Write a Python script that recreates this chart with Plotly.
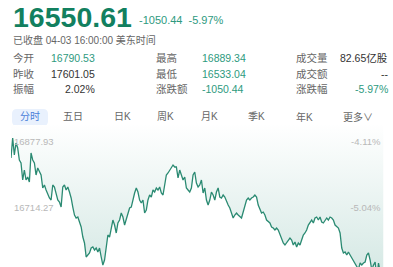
import plotly.graph_objects as go

# ---------------- data ----------------
prev_close = 17601.05
last_price = 16550.61
change = -1050.44
change_pct = -5.97

stats_left = [("今开", "16790.53"), ("昨收", "17601.05"), ("振幅", "2.02%")]
stats_mid = [("最高", "16889.34"), ("最低", "16533.04"), ("涨跌额", "-1050.44")]
stats_right = [("成交量", "82.65亿股"), ("成交额", "--"), ("涨跌幅", "-5.97%")]
tabs = ["分时", "五日", "日K", "周K", "月K", "季K", "年K", "更多∨"]

axis_ticks = [16877.93, 16714.27]

prices = [
    16838.3, 16887.9, 16845.7, 16875.5, 16863.1, 16833.3, 16825.9, 16783.7, 16808.5, 16783.7,
    16791.1, 16778.7, 16850.7, 16833.3, 16825.9, 16796.1, 16813.5, 16803.5, 16796.1, 16763.9,
    16771.3, 16758.9, 16746.5, 16739.1, 16734.1, 16771.3, 16766.3, 16746.5, 16734.1, 16729.1,
    16716.7, 16766.3, 16771.3, 16758.9, 16766.3, 16753.9, 16739.1, 16716.7, 16696.9, 16689.5,
    16691.9, 16679.5, 16667.2, 16642.3, 16627.5, 16592.8, 16597.7, 16602.7, 16615.1, 16617.6,
    16610.1, 16615.1, 16605.2,
    16615.1, 16592.8, 16572.9, 16585.3, 16617.6, 16647.3, 16642.3, 16659.7, 16684.5, 16672.1,
    16652.3, 16677.1, 16684.5, 16701.9, 16691.9, 16672.1, 16684.5, 16696.9, 16714.3, 16716.7,
    16739.1, 16751.5, 16763.9, 16753.9, 16734.1, 16726.6, 16734.1, 16701.9, 16709.3, 16734.1,
    16746.5, 16741.5, 16758.9, 16753.9, 16763.9, 16758.9, 16766.3, 16751.5, 16746.5, 16771.3,
    16796.1, 16801.1, 16808.5, 16813.5, 16820.9, 16816.0, 16816.0, 16788.7, 16808.5, 16796.1,
    16783.7, 16791.1, 16763.9, 16758.9, 16753.9, 16763.9, 16796.1,
    16803.5, 16776.3, 16766.3, 16771.3, 16783.7, 16751.5, 16763.9, 16734.1, 16721.7, 16734.1,
    16753.9, 16746.5, 16734.1, 16753.9, 16763.9, 16741.5, 16739.1, 16746.5, 16741.5, 16729.1,
    16721.7, 16714.3, 16701.9, 16689.5, 16696.9, 16701.9, 16696.9, 16691.9, 16689.5, 16704.3,
    16721.7, 16734.1, 16739.1, 16734.1, 16739.1, 16741.5, 16746.5, 16741.5, 16721.7, 16709.3,
    16701.9, 16704.3, 16696.9, 16684.5, 16679.5, 16677.1, 16667.2, 16664.7, 16659.7, 16664.7,
    16659.7, 16647.3, 16639.9, 16627.5,
    16622.5, 16627.5, 16634.9, 16639.9, 16634.9, 16622.5, 16629.9, 16617.6, 16627.5, 16622.5,
    16634.9, 16647.3, 16652.3, 16659.7, 16672.1, 16677.1, 16684.5, 16677.1, 16689.5, 16691.9,
    16684.5, 16691.9, 16679.5, 16677.1, 16684.5, 16689.5, 16684.5, 16691.9, 16689.5, 16684.5,
    16672.1, 16667.2, 16664.7, 16652.3, 16615.1, 16602.7, 16605.2, 16597.7, 16605.2, 16597.7,
    16590.3, 16580.4, 16572.9, 16568.0, 16562.0, 16577.9, 16572.9, 16577.9, 16580.4, 16597.7,
    16602.7, 16585.3, 16560.0, 16572.9, 16580.4, 16533.04, 16577.9, 16556.0, 16555.6, 16550.61,
]
idx = list(range(len(prices)))

# ---------------- styling ----------------
W, H = 393, 267
FONT = "Liberation Sans, Noto Sans CJK SC, sans-serif"
GREEN = "#12805f"
TEAL = "#2e9a80"
LINE = "#2a8a72"
LABEL = "#666666"
VALUE = "#333333"


def px(x):
    return x / W


def py(y):
    return 1 - y / H


fig = go.Figure()

# baseline (previous close) – fill reaches up to it
fig.add_trace(go.Scatter(x=idx, y=[prev_close] * len(idx), mode="lines",
                         line=dict(width=0), hoverinfo="skip", showlegend=False))
fig.add_trace(go.Scatter(
    x=idx, y=prices, mode="lines", fill="tonexty",
    fillgradient=dict(type="vertical",
                      colorscale=[[0, "#d6e9e5"], [1, "#ffffff"]],
                      start=16560, stop=16925),
    line=dict(color=LINE, width=1.3), showlegend=False, hoverinfo="skip"))

# y range mapped so that pixel 125 -> top, pixel 267 -> bottom
y_top = 16920.1
y_bot = 16568.0

pct_text = ["%.2f%%" % ((v / prev_close - 1) * 100) for v in axis_ticks]
num_text = ["%.2f" % v for v in axis_ticks]

fig.add_trace(go.Scatter(x=[idx[0]], y=[axis_ticks[0]], yaxis="y2", mode="markers",
                         marker=dict(opacity=0), showlegend=False, hoverinfo="skip"))

annotations = []

# big price
annotations.append(dict(x=px(10.5), y=py(17), xref="paper", yref="paper", xanchor="left",
                        yanchor="middle", text="<b>%.2f</b>" % last_price, showarrow=False,
                        font=dict(family=FONT, size=28.5, color=GREEN)))
annotations.append(dict(x=px(136.5), y=py(20.5), xref="paper", yref="paper", xanchor="left",
                        yanchor="middle", text="%.2f  %.2f%%" % (change, change_pct),
                        showarrow=False, font=dict(family=FONT, size=11, color=TEAL)))
annotations.append(dict(x=px(11), y=py(39.5), xref="paper", yref="paper", xanchor="left",
                        yanchor="middle", text="已收盘 04-03 16:00:00 美东时间",
                        showarrow=False, font=dict(family=FONT, size=10, color=LABEL)))

row_y = [58.5, 73.5, 88.5]
teal_vals = {"16790.53", "16889.34", "16533.04", "-1050.44", "-5.97%"}
for i, (lab, val) in enumerate(stats_left):
    annotations.append(dict(x=px(11), y=py(row_y[i]), xref="paper", yref="paper",
                            xanchor="left", yanchor="middle", text=lab, showarrow=False,
                            font=dict(family=FONT, size=10.5, color=LABEL)))
    annotations.append(dict(x=px(97), y=py(row_y[i]), xref="paper", yref="paper",
                            xanchor="right", yanchor="middle", text=val, showarrow=False,
                            font=dict(family=FONT, size=10.5,
                                      color=TEAL if val in teal_vals else VALUE)))
for i, (lab, val) in enumerate(stats_mid):
    annotations.append(dict(x=px(154), y=py(row_y[i]), xref="paper", yref="paper",
                            xanchor="left", yanchor="middle", text=lab, showarrow=False,
                            font=dict(family=FONT, size=10.5, color=LABEL)))
    annotations.append(dict(x=px(199.5), y=py(row_y[i]), xref="paper", yref="paper",
                            xanchor="left", yanchor="middle", text=val, showarrow=False,
                            font=dict(family=FONT, size=10.5,
                                      color=TEAL if val in teal_vals else VALUE)))
for i, (lab, val) in enumerate(stats_right):
    annotations.append(dict(x=px(293.5), y=py(row_y[i]), xref="paper", yref="paper",
                            xanchor="left", yanchor="middle", text=lab, showarrow=False,
                            font=dict(family=FONT, size=10.5, color=LABEL)))
    annotations.append(dict(x=px(390), y=py(row_y[i]), xref="paper", yref="paper",
                            xanchor="right", yanchor="middle", text=val, showarrow=False,
                            font=dict(family=FONT, size=10.5,
                                      color=TEAL if val in teal_vals else VALUE)))

tab_x = [30, 73, 122, 165, 209, 256, 304, 358]
for i, (t, cx) in enumerate(zip(tabs, tab_x)):
    annotations.append(dict(x=px(cx), y=py(117), xref="paper", yref="paper",
                            xanchor="center", yanchor="middle", text=t, showarrow=False,
                            font=dict(family=FONT, size=10,
                                      color="#4a80d9" if i == 0 else LABEL)))

# rounded pill behind first tab
x0, x1, y0, y1, r = 12, 48, 109, 126, 5
rx, ry = r / W, r / H
X0, X1, Y0, Y1 = px(x0), px(x1), py(y1), py(y0)
path = (f"M{X0+rx},{Y0} L{X1-rx},{Y0} Q{X1},{Y0} {X1},{Y0+ry} L{X1},{Y1-ry} "
        f"Q{X1},{Y1} {X1-rx},{Y1} L{X0+rx},{Y1} Q{X0},{Y1} {X0},{Y1-ry} "
        f"L{X0},{Y0+ry} Q{X0},{Y0} {X0+rx},{Y0} Z")
shapes = [dict(type="path", path=path, xref="paper", yref="paper",
               fillcolor="#e9f1fd", line=dict(width=0), layer="below")]

fig.update_layout(
    width=W, height=H, margin=dict(l=0, r=0, t=0, b=0),
    paper_bgcolor="white", plot_bgcolor="white",
    showlegend=False, annotations=annotations, shapes=shapes,
    xaxis=dict(domain=[px(11), px(383.5)], range=[0, len(prices) - 1],
               visible=False, fixedrange=True),
    yaxis=dict(domain=[0, py(125)], range=[y_bot, y_top], showgrid=False, zeroline=False,
               showline=False, ticks="", tickvals=axis_ticks, ticktext=num_text,
               ticklabelposition="inside", ticklabelstandoff=0,
               tickfont=dict(family=FONT, size=9.5, color="#b8b8b8")),
    yaxis2=dict(overlaying="y", side="right", range=[y_bot, y_top], showgrid=False,
                zeroline=False, showline=False, ticks="", tickvals=axis_ticks,
                ticktext=pct_text, ticklabelposition="inside", ticklabelstandoff=0,
                tickfont=dict(family=FONT, size=9.5, color="#b8b8b8")),
)

fig.write_html("out.html")
